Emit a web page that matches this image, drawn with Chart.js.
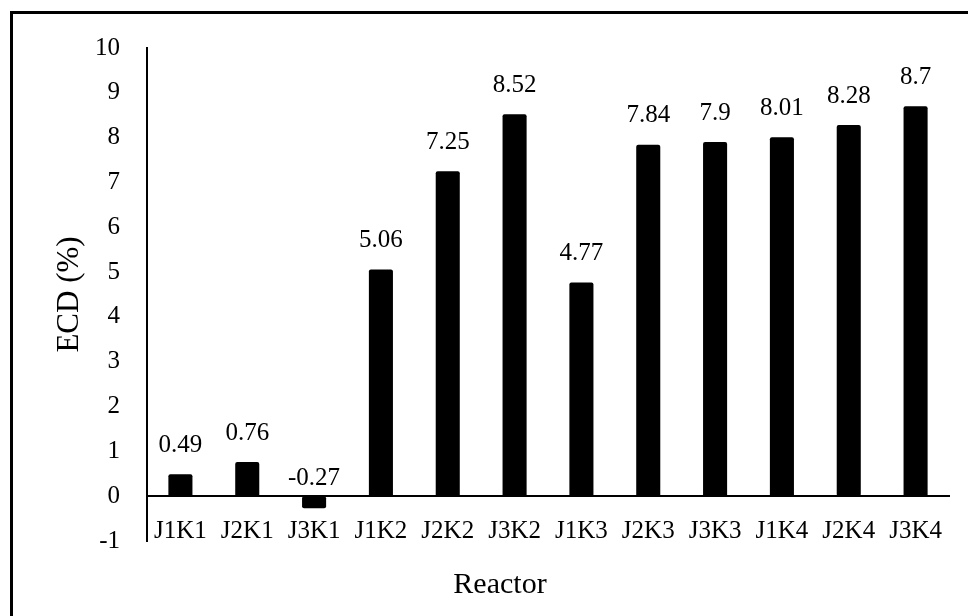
<!DOCTYPE html>
<html>
<head>
<meta charset="utf-8">
<script src="https://cdn.jsdelivr.net/npm/chart.js@4.4.1/dist/chart.umd.min.js"></script>
<style>
  html, body { margin: 0; padding: 0; background: #fff; overflow: hidden; }
  #wrap { position: relative; width: 968px; height: 616px; }
  #frame { position: absolute; left: 10px; top: 11px; width: 1000px; height: 700px; border: 3px solid #000; }
  #ecdChart { position: absolute; left: 0; top: 0; }
</style>
</head>
<body>
<div id="wrap">
  <div id="frame"></div>
  <canvas id="ecdChart" width="968" height="616"></canvas>
</div>
<script>
const reactors = ['J1K1', 'J2K1', 'J3K1', 'J1K2', 'J2K2', 'J3K2', 'J1K3', 'J2K3', 'J3K3', 'J1K4', 'J2K4', 'J3K4'];
const ecdValues = [0.49, 0.76, -0.27, 5.06, 7.25, 8.52, 4.77, 7.84, 7.9, 8.01, 8.28, 8.7];
const yTicks = [-1, 0, 1, 2, 3, 4, 5, 6, 7, 8, 9, 10];

const serif = '"Liberation Serif", "Times New Roman", serif';

// value labels above each bar (negative ones sit just over the zero line)
const barLabels = {
  id: 'barLabels',
  afterDatasetsDraw(chart) {
    const ctx = chart.ctx;
    const meta = chart.getDatasetMeta(0);
    ctx.save();
    ctx.font = '25px ' + serif;
    ctx.fillStyle = '#000';
    ctx.textAlign = 'center';
    ctx.textBaseline = 'middle';
    meta.data.forEach((bar, i) => {
      const v = ecdValues[i];
      const y = v >= 0 ? bar.y - 29 : bar.base - 18;
      ctx.fillText(String(v), bar.x, y);
    });
    ctx.restore();
  }
};

new Chart(document.getElementById('ecdChart'), {
  type: 'bar',
  data: {
    labels: reactors,
    datasets: [{
      data: ecdValues,
      backgroundColor: '#000',
      borderWidth: 0,
      borderRadius: 2,
      borderSkipped: false,
      barPercentage: 0.36,
      categoryPercentage: 1
    }]
  },
  options: {
    responsive: false,
    animation: false,
    layout: { padding: { left: 51, right: 19, top: 48, bottom: 13 } },
    plugins: {
      legend: { display: false },
      tooltip: { enabled: false },
      title: {
        display: true,
        position: 'bottom',
        text: 'Reactor',
        color: '#000',
        font: { family: serif, size: 30, weight: 'normal' },
        padding: { top: 26, bottom: 0 }
      }
    },
    scales: {
      x: {
        position: { y: 0 },
        grid: { display: false, drawTicks: false },
        border: { display: true, color: '#000', width: 2 },
        ticks: {
          color: '#000',
          font: { family: serif, size: 25 },
          padding: 20,
          maxRotation: 0,
          autoSkip: false
        }
      },
      y: {
        min: -1,
        max: 10,
        afterBuildTicks(scale) {
          scale.ticks = yTicks.map(v => ({ value: v }));
        },
        afterFit(scale) {
          scale.width = 96;
        },
        grid: { display: false, drawTicks: false },
        border: { display: true, color: '#000', width: 2 },
        ticks: {
          color: '#000',
          font: { family: serif, size: 25 },
          padding: 27
        },
        title: {
          display: true,
          text: 'ECD (%)',
          color: '#000',
          font: { family: serif, size: 31, weight: 'normal' },
          padding: { top: 0, bottom: 8 }
        }
      }
    }
  },
  plugins: [barLabels]
});
</script>
</body>
</html>
